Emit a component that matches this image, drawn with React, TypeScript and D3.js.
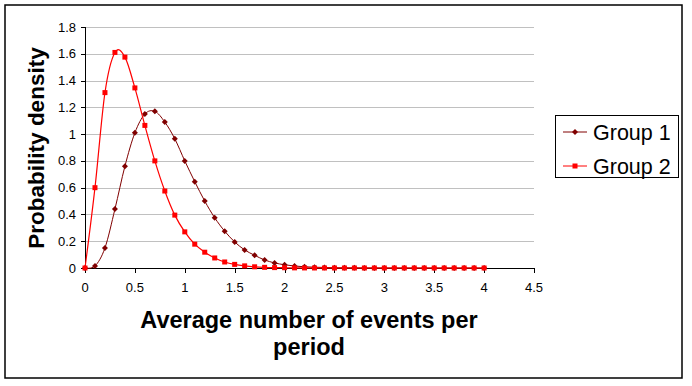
import React from "react";
import * as d3 from "d3";

const xValues: number[] = Array.from({ length: 41 }, (_, i) => +(i * 0.1).toFixed(1));
const group1: number[] = [
  0, 0.015, 0.15, 0.44, 0.76, 1.01, 1.15, 1.17, 1.09, 0.965, 0.8, 0.645, 0.5, 0.375, 0.275, 0.195,
  0.135, 0.095, 0.06, 0.038, 0.024, 0.015, 0.009, 0.006, 0.004, 0.002, 0.0015, 0.001, 0.0006,
  0.0004, 0.0002, 0.0001, 0, 0, 0, 0, 0, 0, 0, 0, 0,
];
const group2: number[] = [
  0, 0.6, 1.31, 1.61, 1.575, 1.345, 1.065, 0.8, 0.575, 0.395, 0.27, 0.178, 0.118, 0.075, 0.045,
  0.027, 0.016, 0.009, 0.005, 0.003, 0.002, 0.001, 0.0005, 0.0003, 0.0002, 0.0001, 0, 0, 0, 0, 0,
  0, 0, 0, 0, 0, 0, 0, 0, 0, 0,
];
const seriesNames: string[] = ["Group 1", "Group 2"];
const xTicks: number[] = [0, 0.5, 1, 1.5, 2, 2.5, 3, 3.5, 4, 4.5];
const yTicks: number[] = [0, 0.2, 0.4, 0.6, 0.8, 1, 1.2, 1.4, 1.6, 1.8];
const xTitleLines: string[] = ["Average number of events per", "period"];
const yTitle = "Probability density";

const W = 692;
const H = 386;
const FONT = "Arial, 'Liberation Sans', sans-serif";

export default function App() {
  const x = d3.scaleLinear().domain([0, 4.5]).range([85, 534]);
  const y = d3.scaleLinear().domain([0, 1.8]).range([268, 27]);
  const line = d3
    .line<number>()
    .x((_, i) => x(xValues[i]))
    .y((d) => y(d))
    .curve(d3.curveCardinal.tension(0));

  const c1 = "#800000";
  const c2 = "#FF0000";
  const diamond = (cx: number, cy: number, r: number) =>
    `M${cx},${cy - r}L${cx + r},${cy}L${cx},${cy + r}L${cx - r},${cy}Z`;

  return (
    <svg
      width={W}
      height={H}
      style={{ position: "absolute", left: 0, top: 0, background: "#fff" }}
      fontFamily={FONT}
    >
      <rect x={5} y={5} width={677} height={373} fill="#fff" stroke="#000" strokeWidth={1.5} />
      {yTicks.slice(1).map((t) => (
        <line key={"g" + t} x1={x(0)} x2={x(4.5)} y1={Math.round(y(t)) + 0.5} y2={Math.round(y(t)) + 0.5} stroke="#C0C0C0" strokeWidth={1} />
      ))}
      <line x1={x(0) + 0.5} x2={x(0) + 0.5} y1={y(1.8)} y2={y(0)} stroke="#000" />
      {yTicks.map((t) => (
        <g key={"y" + t}>
          <line x1={x(0) - 4} x2={x(0)} y1={Math.round(y(t)) + 0.5} y2={Math.round(y(t)) + 0.5} stroke="#000" />
          <text x={76} y={y(t) + 4.5} textAnchor="end" fontSize={13} fill="#000">
            {t}
          </text>
        </g>
      ))}
      <line x1={x(0)} x2={x(4.5)} y1={Math.round(y(0)) + 0.5} y2={Math.round(y(0)) + 0.5} stroke="#000" />
      {xTicks.map((t) => (
        <g key={"x" + t}>
          <line x1={Math.round(x(t)) + 0.5} x2={Math.round(x(t)) + 0.5} y1={y(0)} y2={y(0) + 5} stroke="#000" />
          <text x={x(t)} y={292} textAnchor="middle" fontSize={13} fill="#000">
            {t}
          </text>
        </g>
      ))}
      <path d={line(group1) || ""} fill="none" stroke={c1} strokeWidth={1} />
      {group1.map((v, i) => (
        <path key={"m1" + i} d={diamond(x(xValues[i]), y(v), 3)} fill={c1} />
      ))}
      <path d={line(group2) || ""} fill="none" stroke={c2} strokeWidth={1.2} />
      {group2.map((v, i) => (
        <rect key={"m2" + i} x={x(xValues[i]) - 2.5} y={y(v) - 2.5} width={5} height={5} fill={c2} />
      ))}
      <text
        transform={`translate(44,148) rotate(-90)`}
        textAnchor="middle"
        fontSize={22.5}
        fontWeight="bold"
        fill="#000"
      >
        {yTitle}
      </text>
      {xTitleLines.map((l, i) => (
        <text key={l} x={309} y={328 + i * 27} textAnchor="middle" fontSize={23.5} fontWeight="bold" fill="#000">
          {l}
        </text>
      ))}
      <rect x={555.5} y={115.5} width={123} height={62} fill="#fff" stroke="#000" strokeWidth={1} />
      {seriesNames.map((n, i) => {
        const cy = 132 + i * 34;
        const col = i === 0 ? c1 : c2;
        return (
          <g key={n}>
            <line x1={563} x2={587} y1={cy} y2={cy} stroke={col} strokeWidth={1} />
            {i === 0 ? (
              <path d={diamond(575, cy, 3)} fill={col} />
            ) : (
              <rect x={572.5} y={cy - 2.5} width={5} height={5} fill={col} />
            )}
            <text x={593} y={cy + 8} fontSize={21.5} fill="#000">
              {n}
            </text>
          </g>
        );
      })}
    </svg>
  );
}
